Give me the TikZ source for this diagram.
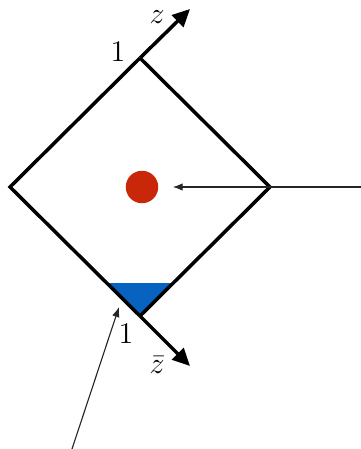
\documentclass[tikz,border=0pt]{standalone}
\usepackage{amsmath,amssymb}
\usetikzlibrary{arrows.meta, positioning, calc}
\definecolor{dotred}{HTML}{C8270A}
\definecolor{wedgeblue}{HTML}{0762C0}

\begin{document}
\begin{tikzpicture}[
  x=0.4pt, y=0.4pt,
  axis/.style={-{Triangle[length=7pt, width=6.5pt]}, line width=1.4pt, black},
  edge/.style={line width=1.4pt, black, line join=miter},
  thinarr/.style={-{Latex[length=4pt, width=3pt]}, line width=0.45pt, black!85},
  lbl/.style={font=\large, inner sep=0pt},
]

% Frame
\useasboundingbox (-10,-262) rectangle (351,187);

% Corners of the square
\coordinate (O) at (0,0);
\coordinate (top) at (130,129);
\coordinate (right) at (260,0);
\coordinate (bottom) at (130,-129);
\coordinate (ztip) at (180,178);
\coordinate (zbtip) at (180,-179);

% Shaded corner
\fill[wedgeblue] (97,-96) -- (164,-96) -- (bottom) -- cycle;

% Square and axes
\draw[edge] (top) -- (O) -- (bottom);
\draw[edge] (top) -- (right) -- (bottom);
\draw[axis] (top) -- (ztip);
\draw[axis] (bottom) -- (zbtip);

% Labels
\node[lbl] (zlab) at (147,170) {$z$};
\node[lbl] (zblab) at (147,-178) {$\bar{z}$};
\node[lbl] (onetop) at (108,135) {$1$};
\node[lbl] (onebot) at (116,-147) {$1$};

% Point
\node[circle, fill=dotred, inner sep=0pt, minimum size=13pt] (dot) at (132,0) {};

% Pointers
\coordinate (rsrc) at (351,0);
\coordinate (lsrc) at (62,-262);
\coordinate (ptr) at (109,-120);
\draw[thinarr, shorten >=5.6pt] (rsrc) -- (dot);
\draw[thinarr] (lsrc) -- (ptr);

\end{tikzpicture}
\end{document}
